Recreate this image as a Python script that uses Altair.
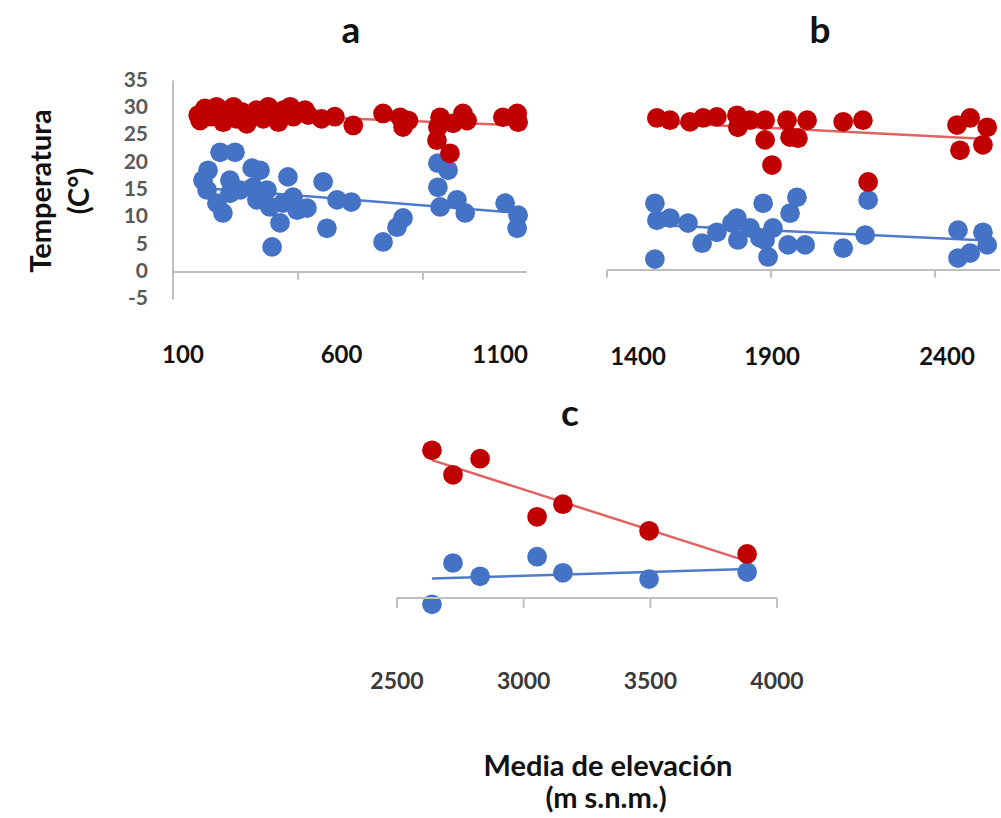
import altair as alt
import pandas as pd

# ---- data: elevation (m s.n.m.) and temperature (°C) per site ----
# panel a (low elevation)
a_max_elev = [148, 154, 169, 185, 206, 222, 227, 243, 259, 269, 285, 301, 317, 332, 353, 369, 385, 401,
              417, 438, 448, 464, 485, 495, 537, 579, 637, 731, 785, 794, 811, 911, 904, 901, 942, 952,
              983, 996, 1109, 1154, 1157]
a_max_temp = [28.7, 27.7, 29.9, 28.4, 30.2, 29.6, 27.4, 29.0, 30.2, 28.0, 29.3, 27.1, 28.7, 29.6, 28.0,
              30.2, 29.0, 27.4, 29.6, 30.2, 28.4, 29.3, 29.6, 28.7, 28.0, 28.4, 26.8, 29.0, 28.3, 26.5,
              27.7, 28.3, 26.5, 24.1, 21.7, 27.2, 29.0, 27.7, 28.3, 29.0, 27.4]
a_min_elev = [217, 264, 179, 163, 176, 207, 226, 248, 248, 280, 318, 343, 321, 333, 365, 374, 406, 381,
              431, 415, 447, 460, 491, 542, 554, 586, 631, 731, 775, 794, 904, 936, 904, 911, 964, 990,
              1116, 1157, 1154]
a_min_temp = [21.9, 21.9, 18.6, 16.8, 15.0, 12.6, 10.8, 16.8, 14.4, 15.0, 19.0, 18.6, 15.5, 13.2, 15.0,
              11.9, 9.0, 4.6, 17.4, 12.6, 13.7, 11.3, 11.7, 16.5, 8.0, 13.2, 12.8, 5.5, 8.2, 9.9, 19.9,
              18.6, 15.5, 11.9, 13.2, 10.8, 12.6, 10.4, 8.0]

# panel b (mid elevation)
b_max_elev = [1552, 1592, 1653, 1693, 1735, 1796, 1799, 1836, 1882, 1882, 1903, 1949, 1958, 1982, 2010,
              2120, 2180, 2196, 2467, 2476, 2507, 2559, 2546]
b_max_temp = [27.8, 27.4, 27.1, 27.8, 28.0, 28.3, 26.1, 27.4, 27.4, 23.8, 19.2, 27.4, 24.3, 24.1, 27.4,
              27.1, 27.4, 16.1, 26.5, 21.9, 27.8, 26.1, 22.9]
b_min_elev = [1546, 1552, 1592, 1647, 1690, 1735, 1781, 1796, 1799, 1836, 1876, 1866, 1891, 1906, 1958,
              1979, 1952, 2004, 1546, 2120, 2196, 2187, 2470, 2546, 2559, 2507, 2470, 1882]
b_min_temp = [12.2, 9.1, 9.5, 8.6, 4.9, 6.9, 8.6, 9.5, 5.5, 7.7, 12.2, 5.9, 2.4, 7.7, 10.4, 13.3, 4.6,
              4.6, 2.0, 4.0, 12.8, 6.4, 7.3, 6.9, 4.6, 3.1, 2.2, 5.5]

# panel c (high elevation)
c_elev = [2638, 2721, 2828, 3053, 3155, 3495, 3882]
c_max_temp = [21.1, 17.6, 19.9, 11.6, 13.4, 9.6, 6.3]
c_min_temp = [-0.9, 5.0, 3.1, 5.9, 3.6, 2.7, 3.7]

# axis tick labels
a_x_labels = [100, 600, 1100]
a_axis_ticks = [463, 857]
b_x_labels = [1400, 1900, 2400]
c_x_labels = [2500, 3000, 3500, 4000]
y_labels = [-5, 0, 5, 10, 15, 20, 25, 30, 35]

RED = "#C00000"
BLUE = "#4472C4"
RED_LINE = "#E06262"
BLUE_LINE = "#4F7BC9"
AXIS_GREY = "#BFBFBF"
FONT = "Lato"


def series_frame(min_elev, min_temp, max_elev, max_temp):
    rows = [{"elev": e, "temp": t, "serie": "min"} for e, t in zip(min_elev, min_temp)]
    rows += [{"elev": e, "temp": t, "serie": "max"} for e, t in zip(max_elev, max_temp)]
    return pd.DataFrame(rows)


def panel(df, xdom, xrng, ydom, yrng, tick_values, label_values, label_y, label_style,
          with_y_axis=False, label_dx=None):
    xs = alt.Scale(domain=xdom, range=xrng, zero=False, nice=False)
    ys = alt.Scale(domain=ydom, range=yrng, zero=False, nice=False)
    X = alt.X("elev:Q", scale=xs, axis=None)
    Y = alt.Y("temp:Q", scale=ys, axis=None)

    base = alt.Chart(df)
    trend = base.transform_regression("elev", "temp", groupby=["serie"]).mark_line(
        strokeWidth=2.5
    ).encode(
        x=X, y=Y,
        color=alt.Color("serie:N", scale=alt.Scale(domain=["min", "max"], range=[BLUE_LINE, RED_LINE]),
                        legend=None),
    )
    points = base.mark_circle(size=390, opacity=1).encode(
        x=X, y=Y,
        color=alt.Color("serie:N", scale=alt.Scale(domain=["min", "max"], range=[BLUE, RED]),
                        legend=None),
    )

    # horizontal axis line crossing at 0 °C
    hline = alt.Chart(pd.DataFrame({"elev": [xdom[0]], "elev2": [xdom[1]], "temp": [0]})).mark_rule(
        color=AXIS_GREY, strokeWidth=2
    ).encode(x=X, x2="elev2:Q", y=Y)
    ticks = alt.Chart(pd.DataFrame({"elev": tick_values, "temp": [0] * len(tick_values),
                                    "temp2": [-1.4] * len(tick_values)})).mark_rule(
        color=AXIS_GREY, strokeWidth=2
    ).encode(x=X, y=Y, y2="temp2:Q")

    text_kwargs = dict(font=FONT, fontWeight="bold", baseline="middle", align="center", **label_style)
    if label_dx is not None:
        text_kwargs["dx"] = label_dx
    xlabels = alt.Chart(pd.DataFrame({"elev": label_values,
                                      "lab": [str(v) for v in label_values]})).mark_text(
        **text_kwargs
    ).encode(x=X, y=alt.value(label_y), text="lab:N")

    layers = [trend, points, hline, ticks, xlabels]
    if with_y_axis:
        vline = alt.Chart(pd.DataFrame({"elev": [xdom[0]], "temp": [ydom[0]], "temp2": [ydom[1]]})).mark_rule(
            color=AXIS_GREY, strokeWidth=2
        ).encode(x=X, y=Y, y2="temp2:Q")
        ylabels = alt.Chart(pd.DataFrame({"temp": y_labels, "lab": [str(v) for v in y_labels]})).mark_text(
            font=FONT, fontWeight="bold", fontSize=21, color="#595959", align="right", baseline="middle"
        ).encode(x=alt.value(148), y=Y, text="lab:N")
        layers += [vline, ylabels]
    return alt.layer(*layers).resolve_scale(color="independent")


panel_a = panel(
    series_frame(a_min_elev, a_min_temp, a_max_elev, a_max_temp),
    xdom=[68.5, 1185], xrng=[173, 527], ydom=[-5, 35], yrng=[299.4, 80.6],
    tick_values=a_axis_ticks, label_values=a_x_labels, label_y=356,
    label_style=dict(fontSize=24, color="#111111"), with_y_axis=True,
)
panel_b = panel(
    series_frame(b_min_elev, b_min_temp, b_max_elev, b_max_temp),
    xdom=[1400, 2598], xrng=[607, 1000], ydom=[-5, 35], yrng=[297.4, 78.6],
    tick_values=b_x_labels, label_values=b_x_labels, label_y=358,
    label_style=dict(fontSize=24, color="#111111"),
    label_dx=alt.expr("datum.elev == 1400 ? 31 : (datum.elev == 2400 ? 12 : 1)"),
)
panel_c = panel(
    series_frame(c_elev, c_min_temp, c_elev, c_max_temp),
    xdom=[2500, 4000], xrng=[397, 777], ydom=[-5, 25], yrng=[633, 423],
    tick_values=c_x_labels, label_values=c_x_labels, label_y=682,
    label_style=dict(fontSize=23, color="#3A3A3A"),
)

one = pd.DataFrame({"k": [0]})


def caption(txt, x, y, size, **kw):
    return alt.Chart(one).mark_text(
        text=txt, font=FONT, fontWeight="bold", fontSize=size, color="#111111", **kw
    ).encode(x=alt.value(x), y=alt.value(y))


titles = [
    caption("a", 351, 43, 37, align="center", baseline="alphabetic"),
    caption("b", 820, 43, 37, align="center", baseline="alphabetic"),
    caption("c", 570, 426, 37, align="center", baseline="alphabetic"),
    caption(["Temperatura", "(C°)"], 42, 191, 29, align="center", baseline="middle",
            angle=270, lineHeight=38),
    caption("Media de elevación", 608, 776, 29, align="center", baseline="alphabetic"),
    caption("(m s.n.m.)", 606, 808, 29, align="center", baseline="alphabetic"),
]

chart = alt.layer(panel_a, panel_b, panel_c, *titles).resolve_scale(
    x="independent", y="independent", color="independent"
).properties(
    width=1001, height=818, autosize=alt.AutoSizeParams(type="none"), padding=0,
    background="white",
).configure_view(stroke=None)

chart.save("out.html", embed_options={"renderer": "svg", "actions": False})
